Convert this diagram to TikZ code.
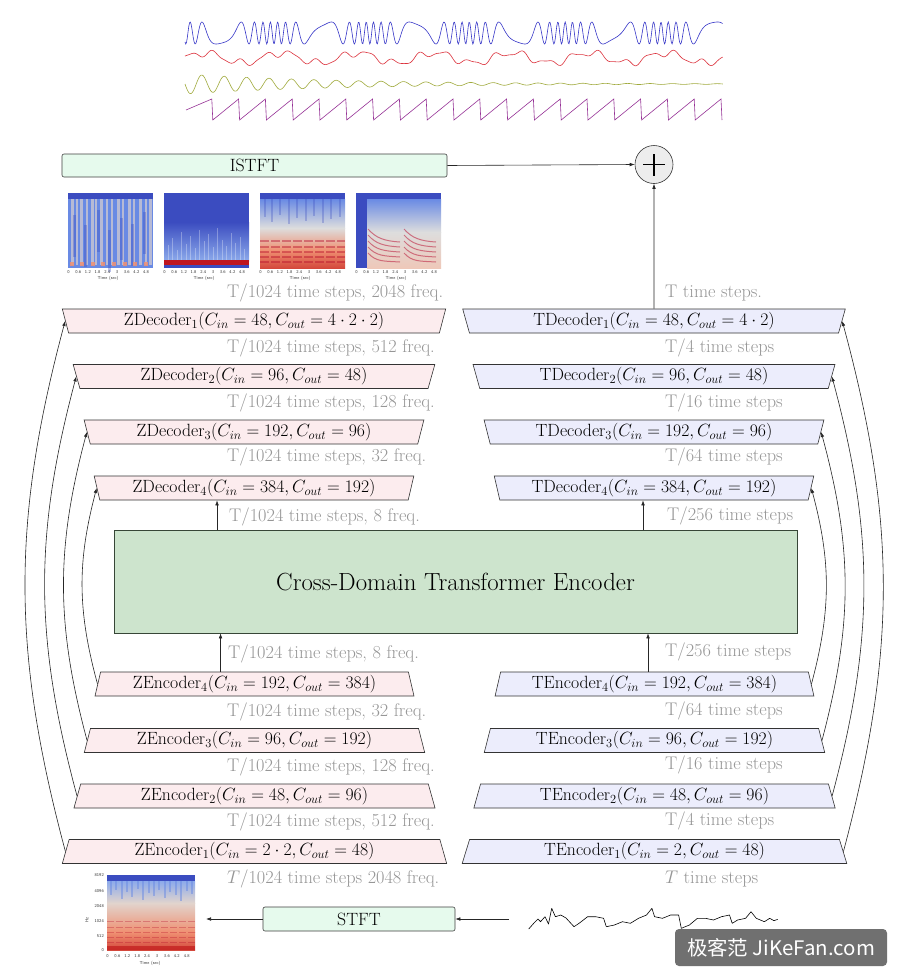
\RequirePackage{fix-cm}
\documentclass[tikz,border=0pt]{standalone}
\usepackage{fontspec}
\newfontfamily\cjkfont{Noto Sans CJK SC}
\usetikzlibrary{shapes.geometric,arrows.meta,calc}
\definecolor{zfill}{RGB}{252,236,238}
\definecolor{tfill}{RGB}{236,237,252}
\definecolor{gfill}{RGB}{205,228,205}
\definecolor{gline}{RGB}{55,70,55}
\definecolor{mint}{RGB}{230,250,237}
\definecolor{lblgray}{RGB}{150,150,150}
\definecolor{cwblue}{RGB}{59,76,192}
\definecolor{cwred}{RGB}{180,4,38}
\definecolor{cwlight}{RGB}{221,221,221}
\definecolor{cwwarm}{RGB}{225,212,205}
\definecolor{spbA}{RGB}{105,138,228}
\definecolor{spbB}{RGB}{140,170,235}
\definecolor{sprA}{RGB}{240,145,115}
\definecolor{sprB}{RGB}{212,72,60}
\definecolor{sprL}{RGB}{238,200,185}
\definecolor{wblue}{RGB}{55,55,200}
\definecolor{wred}{RGB}{220,50,60}
\definecolor{wolive}{RGB}{160,170,60}
\definecolor{wpurple}{RGB}{150,50,150}
\definecolor{wmgray}{RGB}{112,112,112}
\tikzset{
  trap/.style={trapezium, trapezium left angle=76, trapezium right angle=76,
    trapezium stretches=true, minimum height=24pt, inner sep=0pt,
    draw=black!80, line width=0.6pt, font=\fontsize{17.7}{20}\selectfont},
  zenc/.style={trap, fill=zfill},
  zdec/.style={trap, fill=zfill, shape border rotate=180},
  tenc/.style={trap, fill=tfill},
  tdec/.style={trap, fill=tfill, shape border rotate=180},
  dimlbl/.style={anchor=west, inner sep=0pt, text=lblgray, font=\fontsize{18.3}{21}\selectfont},
  arr/.style={-{Latex[length=5pt,width=3.6pt]}, line width=0.6pt, draw=black!85},
  mintbox/.style={draw=black!75, fill=mint, rounded corners=2pt, line width=0.6pt,
    font=\fontsize{17.8}{20}\selectfont, inner sep=0pt},
  ticklbl/.style={font=\fontsize{4.3}{4.5}\sffamily, inner sep=0pt, text=black!80},
}
\begin{document}
\begin{tikzpicture}[x=1pt,y=-1pt]
\useasboundingbox (0,0) rectangle (901,980);
\fill[white] (0,0) rectangle (901,980);

% ---------- top waveforms ----------
\draw[wblue, line width=0.6pt] plot[domain=0:1, samples=700, variable=\t]
  ({185+538*\t},{33-11*sin(14400*\t+365*sin(1980*\t+40))});
\draw[wred, line width=0.6pt] plot[domain=0:1, samples=500, variable=\t]
  ({185+538*\t},{58-5*sin(2520*\t)-3*sin(7560*\t+40)+1.2*sin(13000*\t)});
\draw[wolive, line width=0.6pt] plot[domain=0:1, samples=600, variable=\t]
  ({185+538*\t},{84+10*exp(-3.5*\t)*sin(8640*\t)});
\draw[wpurple, line width=0.6pt] (186,110)
  \foreach \i in {1,...,20} { -- ({186+26.8*\i-1},99) -- ({186+26.8*\i},120) };

% ---------- ISTFT and sum ----------
\node[mintbox, minimum width=385pt, minimum height=23pt] (istft) at (254.5,165.5) {ISTFT};
\node[circle, draw=black!80, fill=black!7, line width=0.6pt, minimum size=38pt, inner sep=0pt] (sum) at (654,164.5) {};
\draw[line width=1.1pt] ([xshift=-11pt]sum.center) -- ([xshift=11pt]sum.center);
\draw[line width=1.1pt] ([yshift=-11pt]sum.center) -- ([yshift=11pt]sum.center);
\draw[arr] (istft.east) -- (sum.west);

% ---------- top spectrograms ----------
% 1
\fill[spbA] (68,193) rectangle (153,268);
\foreach \sx/\sw in {71/2.5,76/2,80/3,86/2.2,91/2.6,95/2,100/3,106/2.4,111/2.2,117/3,122/2.2,128/2.8,133/2,139/2.5,145/2.2,149/2.6}
  \fill[cwwarm, opacity=0.65] (\sx,199) rectangle ++(\sw,66);
\foreach \sx/\st in {73/215,84/225,97/210,108/230,120/218,131/224,143/212}
  \fill[cwblue, opacity=0.35] (\sx,\st) rectangle ++(2.5,42);
\fill[cwblue] (68,193) rectangle (153,199);
\foreach \sx in {70,80,91,101,112,123,133,144}
  \fill[sprA, opacity=0.85] (\sx,262) rectangle ++(4,4);
% 2
\fill[cwblue] (164,193) rectangle (249,268);
\shade[top color=cwblue, bottom color=spbB] (164,222) rectangle (249,261);
\foreach \sx/\st in {168/245,172/238,177/250,181/232,186/244,190/236,195/248,199/230,204/241,208/234,213/247,217/228,222/240,226/246,231/233,235/243,240/237,244/249}
  \fill[white, opacity=0.3] (\sx,\st) rectangle ++(1.3,{261-\st});
\fill[cwred!85!orange] (164,260) rectangle (249,265);
% 3
\shade[top color=spbA, bottom color=cwlight] (260,199) rectangle (345,228);
\shade[top color=cwlight, bottom color=sprA] (260,228) rectangle (345,250);
\shade[top color=sprA, bottom color=sprB] (260,250) rectangle (345,268);
\foreach \sx/\st in {264/205,271/210,279/203,288/212,296/206,305/209,313/204,322/211,330/207,339/205}
  \fill[cwblue, opacity=0.3] (\sx,199) rectangle ++(2,{\st-199+12});
\foreach \hy in {241,247,252,257,262}
  \draw[cwred, opacity=0.4, line width=1.2pt, dash pattern=on 9pt off 2pt] (260,\hy) -- (345,\hy);
\fill[cwblue] (260,193) rectangle (345,199);
% 4
\fill[cwblue] (356,193) rectangle (441,268);
\shade[top color=spbA, bottom color=cwlight] (367,199) rectangle (441,232);
\shade[top color=cwlight, bottom color=sprL] (367,232) rectangle (441,268);
\foreach \gx in {368,404}
  \foreach \k in {0,1,2,3,4}
    \draw[cwred!85, opacity=0.6, line width=1pt]
      ({\gx},{229+6*\k}) .. controls ({\gx+8},{238+6*\k}) and ({\gx+16},{241+5*\k}) .. ({\gx+32},{242+5*\k});
\foreach \sx [count=\k] in {68,164,260,356} {
  \foreach \lab [count=\i from 0] in {0,0.6,1.2,1.8,2.4,3,3.6,4.2,4.8}
    \node[ticklbl] (tk\k-\i) at ({\sx+0.5+9.7*\i},272.5) {\lab};
  \node[ticklbl] (tt\k) at ({\sx+40},278.5) {Time (sec)};
}

% ---------- decoders ----------
\node[zdec, minimum width=384pt] (zd1) at (254,321) {ZDecoder$_1$($C_{in}=48, C_{out}=4\cdot 2\cdot 2$)};
\node[zdec, minimum width=362pt] (zd2) at (254,376.5) {ZDecoder$_2$($C_{in}=96, C_{out}=48$)};
\node[zdec, minimum width=341pt] (zd3) at (254,432) {ZDecoder$_3$($C_{in}=192, C_{out}=96$)};
\node[zdec, minimum width=320pt] (zd4) at (254,488) {ZDecoder$_4$($C_{in}=384, C_{out}=192$)};
\node[tdec, minimum width=384pt] (td1) at (654,321) {TDecoder$_1$($C_{in}=48, C_{out}=4\cdot 2$)};
\node[tdec, minimum width=362pt] (td2) at (654,376.5) {TDecoder$_2$($C_{in}=96, C_{out}=48$)};
\node[tdec, minimum width=341pt] (td3) at (654,432) {TDecoder$_3$($C_{in}=192, C_{out}=96$)};
\node[tdec, minimum width=320pt] (td4) at (654,488) {TDecoder$_4$($C_{in}=384, C_{out}=192$)};

% ---------- encoders ----------
\node[zenc, minimum width=320pt] (ze4) at (254.5,684) {ZEncoder$_4$($C_{in}=192, C_{out}=384$)};
\node[zenc, minimum width=341pt] (ze3) at (254.5,740.5) {ZEncoder$_3$($C_{in}=96, C_{out}=192$)};
\node[zenc, minimum width=362pt] (ze2) at (254.5,796) {ZEncoder$_2$($C_{in}=48, C_{out}=96$)};
\node[zenc, minimum width=385pt] (ze1) at (254.5,851.5) {ZEncoder$_1$($C_{in}=2\cdot 2, C_{out}=48$)};
\node[tenc, minimum width=320pt] (te4) at (654.5,684) {TEncoder$_4$($C_{in}=192, C_{out}=384$)};
\node[tenc, minimum width=341pt] (te3) at (654.5,740.5) {TEncoder$_3$($C_{in}=96, C_{out}=192$)};
\node[tenc, minimum width=362pt] (te2) at (654.5,796) {TEncoder$_2$($C_{in}=48, C_{out}=96$)};
\node[tenc, minimum width=385pt] (te1) at (654.5,851.5) {TEncoder$_1$($C_{in}=2, C_{out}=48$)};

% ---------- transformer ----------
\node[draw=gline, fill=gfill, line width=0.6pt, minimum width=683pt, minimum height=103pt,
  font=\fontsize{24.8}{28}\selectfont] (cdte) at (455.5,581.5) {Cross-Domain Transformer Encoder};

\coordinate (zup) at ([xshift=-34pt]ze4.north);
\coordinate (zdn) at ([xshift=-37pt]zd4.south);
\coordinate (tup) at ([xshift=-6.5pt]te4.north);
\coordinate (tdn) at ([xshift=-11pt]td4.south);
\draw[arr] (zup) -- (zup |- cdte.south);
\draw[arr] (zdn |- cdte.north) -- (zdn);
\draw[arr] (tup) -- (tup |- cdte.south);
\draw[arr] (tdn |- cdte.north) -- (tdn);
\draw[arr] (td1.north) -- (sum.south);

% ---------- skip connections ----------
\foreach \i in {1,2,3,4} {
  \draw[arr] (ze\i.west) to[bend left=15] (zd\i.west);
  \draw[arr] (te\i.east) to[bend right=15] (td\i.east);
}

% ---------- dimension labels ----------
\node[dimlbl] (l1) at (227,293) {T/1024 time steps, 2048 freq.};
\node[dimlbl] (l2) at (227,348) {T/1024 time steps, 512 freq.};
\node[dimlbl] (l3) at (227,403) {T/1024 time steps, 128 freq.};
\node[dimlbl] (l4) at (227,457) {T/1024 time steps, 32 freq.};
\node[dimlbl] (l5) at (229,517) {T/1024 time steps, 8 freq.};
\node[dimlbl] (l6) at (228,654) {T/1024 time steps, 8 freq.};
\node[dimlbl] (l7) at (227,712) {T/1024 time steps, 32 freq.};
\node[dimlbl] (l8) at (227,767) {T/1024 time steps, 128 freq.};
\node[dimlbl] (l9) at (227,822) {T/1024 time steps, 512 freq.};
\node[dimlbl] (l10) at (227,879) {$T$/1024 time steps 2048 freq.};
\node[dimlbl] (r1) at (665,293) {T time steps.};
\node[dimlbl] (r2) at (665,348) {T/4 time steps};
\node[dimlbl] (r3) at (665,403) {T/16 time steps};
\node[dimlbl] (r4) at (665,457) {T/64 time steps};
\node[dimlbl] (r5) at (667,516) {T/256 time steps};
\node[dimlbl] (r6) at (665,652) {T/256 time steps};
\node[dimlbl] (r7) at (665,711) {T/64 time steps};
\node[dimlbl] (r8) at (665,765) {T/16 time steps};
\node[dimlbl] (r9) at (665,821) {T/4 time steps};
\node[dimlbl] (r10) at (665,879) {$T$ time steps};

% ---------- bottom: STFT ----------
\node[mintbox, minimum width=192pt, minimum height=24pt] (stft) at (359,919) {STFT};
\coordinate (wstart) at (509,919);
\coordinate (specend) at (206,919);
\draw[arr] (wstart) -- (stft.east);
\draw[arr] (stft.west) -- (specend);
\draw[line width=0.6pt, line join=round] (528.7,929) -- (534,923) -- (538,919) -- (540.5,921.7) -- (545,916.7)
 -- (548.5,924) -- (551.7,908.3) -- (555.4,916.7) -- (560.8,915) -- (566,918) -- (574,926.7)
 -- (579.5,923) -- (587.6,916.7) -- (595.6,916.7) -- (603.6,918.3) -- (606.3,926.7) -- (614.4,925)
 -- (622.4,921.7) -- (630.4,923.3) -- (638.5,918.3) -- (646.5,915) -- (651.9,908.3) -- (654.6,916.7)
 -- (662.5,918.3) -- (670.6,915) -- (678.6,915) -- (681.3,928.3) -- (689.4,925) -- (697.4,918.3)
 -- (705.4,918.3) -- (713.5,920) -- (721.5,916.7) -- (729.5,915) -- (732.2,923.3) -- (737.6,920)
 -- (745.6,918.3) -- (751,911.7) -- (756.3,918.3) -- (764.4,921.7) -- (769.7,918.3) -- (774,920.7) -- (777.7,919.3);

% bottom spectrogram
\shade[top color=spbB, bottom color=cwwarm] (107,881) rectangle (195,903);
\shade[top color=cwwarm, bottom color=sprA] (107,903) rectangle (195,932);
\shade[top color=sprA, bottom color=sprB] (107,932) rectangle (195,950);
\foreach \sx/\sl in {110/14,115/9,121/18,126/11,131/16,137/8,142/19,148/12,153/15,158/9,164/17,169/11,175/14,180/20,186/10,191/13}
  \fill[spbA, opacity=0.5] (\sx,881) rectangle ++(1.6,\sl);
\foreach \hy in {921,927,932,937,942}
  \draw[cwred, opacity=0.3, line width=1pt, dash pattern=on 7pt off 2pt] (107,\hy) -- (195,\hy);
\fill[cwred!80!orange, opacity=0.7] (107,946) rectangle (195,950);
\fill[cwblue] (107,875) rectangle (195,881);
\foreach \lab [count=\i from 0] in {0,0.6,1.2,1.8,2.4,3,3.6,4.2,4.8}
  \node[ticklbl] (bk\i) at ({107.5+9.9*\i},956) {\lab};
\node[ticklbl] (bt) at (150,963) {Time (sec)};
\foreach \lab/\yy [count=\i] in {8192/875,4096/891,2048/906,1024/921,512/936,0/950}
  \node[ticklbl, anchor=east] (by\i) at (104,\yy) {\lab};
\node[ticklbl, rotate=90] (hz) at (87,920) {Hz};

% ---------- watermark ----------
\node[fill=wmgray, rounded corners=4pt, minimum width=212pt, minimum height=37pt, inner sep=0pt, text=white]
  (wm) at (781,947.5) {\resizebox{188pt}{17pt}{\cjkfont 极客范 JiKeFan.com}};
\end{tikzpicture}
\end{document}
